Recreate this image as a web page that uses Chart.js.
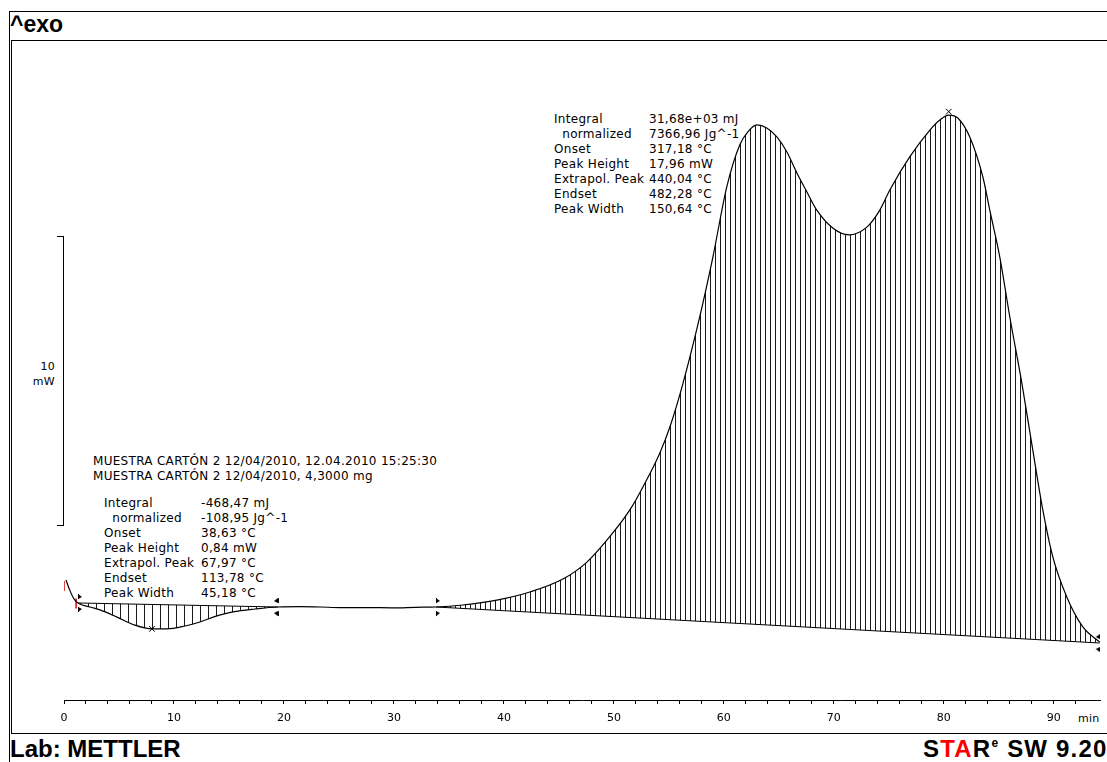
<!DOCTYPE html>
<html>
<head>
<meta charset="utf-8">
<script src="https://cdn.jsdelivr.net/npm/chart.js@4/dist/chart.umd.min.js"></script>
<style>
  body { margin: 0; width: 1107px; height: 762px; position: relative; overflow: hidden; background: #fff; }
  .frame { position: absolute; border: 1px solid #000; }
  .big { position: absolute; font-family: "Liberation Sans", Arial, sans-serif; font-weight: bold; font-size: 24px; color: #000; white-space: nowrap; }
  .txt { position: absolute; font-family: "DejaVu Sans", sans-serif; font-size: 12px; letter-spacing: 0.3px; line-height: 15px; color: #000; white-space: nowrap; }
  #chart { position: absolute; left: 0; top: 0; }
</style>
</head>
<body>
<div class="frame" style="left:9px; top:11px; width:1200px; height:800px; border-right:none; border-bottom:none;"></div>
<div class="frame" style="left:11px; top:40px; width:1200px; height:692px; border-right:none;"></div>
<div class="big" style="left:10px; top:11px; font-size:23px;">^exo</div>
<div class="big" style="left:10px; top:735px;">Lab: METTLER</div>
<div class="big" style="left:923px; top:735px; letter-spacing:1.2px;">S<span style="color:#f00">TA</span>R<sup style="font-size:12px; vertical-align:10px;">e</sup> SW 9.20</div>

<!-- scale bar -->
<div style="position:absolute; left:57px; top:236px; width:6px; height:288px; border:1px solid #000; border-left:none;"></div>
<div class="txt" style="left:16px; top:359px; width:39px; text-align:right; font-size:11px;">10<br>mW</div>

<!-- annotations -->
<div class="txt" style="left:554px; top:112px;">Integral<br>&nbsp;&nbsp;normalized<br>Onset<br>Peak Height<br>Extrapol. Peak<br>Endset<br>Peak Width</div>
<div class="txt" style="left:649px; top:112px;">31,68e+03 mJ<br>7366,96 Jg^-1<br>317,18 °C<br>17,96 mW<br>440,04 °C<br>482,28 °C<br>150,64 °C</div>

<div class="txt" style="left:93px; top:454px;">MUESTRA CARTÓN 2 12/04/2010, 12.04.2010 15:25:30<br>MUESTRA CARTÓN 2 12/04/2010, 4,3000 mg</div>
<div class="txt" style="left:104px; top:496px;">Integral<br>&nbsp;&nbsp;normalized<br>Onset<br>Peak Height<br>Extrapol. Peak<br>Endset<br>Peak Width</div>
<div class="txt" style="left:201px; top:496px;">-468,47 mJ<br>-108,95 Jg^-1<br>38,63 °C<br>0,84 mW<br>67,97 °C<br>113,78 °C<br>45,18 °C</div>

<div class="txt" style="left:1078px; top:711px; font-size:11px;">min</div>

<canvas id="chart" width="1107" height="762"></canvas>

<script>
// time in minutes, heat flow in mW (0 = flat baseline level)
const timeMin = [0.18, 0.55, 0.91, 1.27, 2.36, 3.27, 4.82, 6.45, 8.0, 9.36, 11.0, 12.36, 13.9, 15.36, 17.36, 19.45,
    21.45, 23.3, 25.1, 27.5, 30.0, 32.0, 33.82, 36.27, 39.36, 42.36, 45.36, 47.55, 49.9, 51.45, 52.64, 54.18, 55.09,
    56.27, 57.82, 59.0, 60.27, 61.45, 62.18, 63.0, 63.9, 64.82, 65.73, 66.64, 67.55, 68.45, 69.9, 71.36, 73.0,
    74.18, 75.09, 76.9, 78.73, 79.64, 80.45, 81.27, 82.36, 83.55, 84.18, 85.09, 86.0, 87.09, 88.09, 89.0, 89.91,
    91.18, 92.64, 94.18];
const heatFlow = [0.94, 0.56, 0.28, 0.14, 0.0, -0.10, -0.35, -0.63, -0.76, -0.76, -0.66, -0.52, -0.31, -0.17, -0.07, 0.0,
    0.01, 0.0, -0.02, -0.02, -0.03, -0.01, 0.0, 0.07, 0.24, 0.52, 0.97, 1.56, 2.57, 3.37, 4.17, 5.35, 6.25,
    7.75, 10.1, 12.15, 14.6, 16.05, 16.5, 16.74, 16.63, 16.32, 15.80, 15.07, 14.41, 13.78, 13.16, 12.92, 13.19,
    13.78, 14.48, 15.63, 16.56, 16.91, 17.08, 16.98, 16.32, 14.93, 13.78, 12.15, 10.07, 7.78, 5.45, 3.37, 1.74,
    0.35, -0.69, -1.22];

// integration limits (start/end of each peak)
const limitTime = [1.27, 19.45, 33.82, 94.18];
const limitFlow = [0.14, 0.0, 0.0, -1.25];

// peak maxima
const peakTime = [8.0, 80.45];
const peakFlow = [-0.76, 17.2];

// red range brackets at the start
const bracketTime = [0.0, 1.1];
const bracketFlow = [0.73, 0.12];

const xTicks = [0, 10, 20, 30, 40, 50, 60, 70, 80, 90];

function pts(xs, ys) {
    return xs.map((x, i) => ({ x: x, y: ys[i] }));
}

function between(a, b) {
    return pts(timeMin, heatFlow).filter(p => p.x >= a - 1e-6 && p.x <= b + 1e-6);
}

function hatch(step) {
    const c = document.createElement('canvas');
    c.width = step; c.height = 4;
    const g = c.getContext('2d');
    g.fillStyle = '#1a1a1a';
    g.fillRect(0, 0, 1, 4);
    return g.createPattern(c, 'repeat');
}

// little flag markers drawn at the integration limits
function flag(dir) {
    const c = document.createElement('canvas');
    c.width = 12; c.height = 22;
    const g = c.getContext('2d');
    g.fillStyle = '#000';
    const x0 = 6, d = dir * 4;
    g.beginPath(); g.moveTo(x0, 2); g.lineTo(x0 + d, 5); g.lineTo(x0, 7); g.closePath(); g.fill();
    g.beginPath(); g.moveTo(x0, 15); g.lineTo(x0 + d, 17); g.lineTo(x0, 20); g.closePath(); g.fill();
    g.fillRect(x0, 2, 1, 5); g.fillRect(x0, 15, 1, 5);
    return c;
}

const ctx = document.getElementById('chart').getContext('2d');

new Chart(ctx, {
    type: 'line',
    data: {
        datasets: [
            {
                label: 'Heat flow',
                data: pts(timeMin, heatFlow),
                borderColor: '#000',
                borderWidth: 1.2,
                pointRadius: 0,
                cubicInterpolationMode: 'monotone',
                fill: false
            },
            {
                label: 'Baseline 1',
                data: pts(limitTime.slice(0, 2), limitFlow.slice(0, 2)),
                borderColor: '#000',
                borderWidth: 1,
                pointRadius: 0,
                fill: false
            },
            {
                label: 'Baseline 2',
                data: pts(limitTime.slice(2), limitFlow.slice(2)),
                borderColor: '#000',
                borderWidth: 1,
                pointRadius: 0,
                fill: false
            },
            {
                label: 'Peaks',
                data: pts(peakTime, peakFlow),
                showLine: false,
                pointStyle: 'crossRot',
                pointRadius: 4,
                borderColor: '#000',
                borderWidth: 1
            },
            {
                label: 'Limits',
                data: pts(limitTime, limitFlow),
                showLine: false,
                pointStyle: [flag(1), flag(-1), flag(1), flag(-1)]
            },
            {
                label: 'Range',
                data: pts(bracketTime, bracketFlow),
                showLine: false,
                pointStyle: 'line',
                rotation: 90,
                pointRadius: 5,
                borderColor: '#e00000',
                borderWidth: 1.5
            },
            {
                label: 'Area 1',
                data: between(limitTime[0], limitTime[1]),
                borderWidth: 0,
                pointRadius: 0,
                cubicInterpolationMode: 'monotone',
                backgroundColor: hatch(8),
                fill: 1
            },
            {
                label: 'Area 2',
                data: between(limitTime[2], limitTime[3]),
                borderWidth: 0,
                pointRadius: 0,
                cubicInterpolationMode: 'monotone',
                backgroundColor: hatch(5),
                fill: 2
            }
        ]
    },
    options: {
        responsive: false,
        animation: false,
        events: [],
        layout: { padding: { left: 64, right: 7, top: 42, bottom: 32 } },
        plugins: {
            legend: { display: false },
            tooltip: { enabled: false }
        },
        scales: {
            x: {
                type: 'linear',
                min: 0,
                max: 94.2,
                afterFit: function (scale) { scale.height = 30; },
                afterBuildTicks: function (scale) {
                    scale.ticks = scale.ticks.filter(t => Math.abs(t.value - Math.round(t.value / 2) * 2) < 1e-6);
                },
                border: { color: '#000', width: 1 },
                grid: { drawOnChartArea: false, tickLength: 4, color: '#000' },
                ticks: {
                    stepSize: 2,
                    autoSkip: false,
                    maxRotation: 0,
                    padding: 8,
                    color: '#000',
                    font: { family: 'DejaVu Sans', size: 11 },
                    callback: v => xTicks.includes(v) ? String(v) : ''
                }
            },
            y: {
                display: false,
                min: -3.229,
                max: 19.618
            }
        }
    }
});
</script>
</body>
</html>
